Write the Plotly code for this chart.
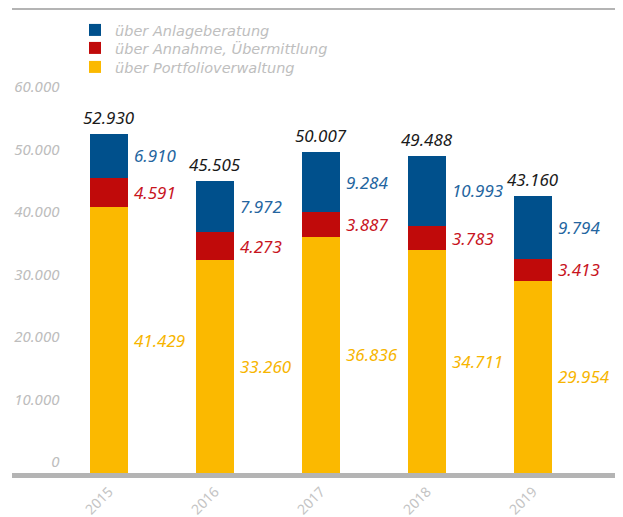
import plotly.graph_objects as go

years = ["2015", "2016", "2017", "2018", "2019"]
portfolio = [41429, 33260, 36836, 34711, 29954]
annahme = [4591, 4273, 3887, 3783, 3413]
beratung = [6910, 7972, 9284, 10993, 9794]
totals_lbl = ["52.930", "45.505", "50.007", "49.488", "43.160"]
names = ["über Portfolioverwaltung", "über Annahme, Übermittlung", "über Anlageberatung"]
ytick_vals = [0, 10000, 20000, 30000, 40000, 50000, 60000]
ytick_text = ["0", "10.000", "20.000", "30.000", "40.000", "50.000", "60.000"]

def fmt(v):
    return f"{v:,}".replace(",", ".")

bar_cols = ["#FBB900", "#C00A0A", "#00508C"]
lbl_cols = ["#F7B500", "#C8141E", "#2465A0"]
FONT = "Noto Sans"
LEG_FONT = "DejaVu Sans"

OFF = 8  # page body margin
W, H = 623 - OFF, 517 - OFF
PL, PR = 12 - OFF, 620 - OFF
PT, PB = 10 - OFF, 473 - OFF
PH = PB - PT

fig = go.Figure()
series = [portfolio, annahme, beratung]
legend_ids = ["legend3", "legend2", "legend"]
for s, n, c, lg in zip(series, names, bar_cols, legend_ids):
    fig.add_trace(go.Bar(x=years, y=s, name=n, marker_color=c, width=0.358,
                         marker_line_width=0, legend=lg))
fig.add_trace(go.Scatter(x=years, y=[0]*5, yaxis="y2", mode="markers",
                         marker=dict(opacity=0), showlegend=False, hoverinfo="skip"))

ann = []
for i, yr in enumerate(years):
    base = 0
    for s, col in zip(series, lbl_cols):
        v = s[i]
        ann.append(dict(x=i, y=base + v / 2, xref="x", yref="y", text=fmt(v),
                        showarrow=False, xanchor="left", yanchor="middle", xshift=23,
                        font=dict(family=FONT, size=17, color=col, style="italic")))
        base += v
    ann.append(dict(x=i, y=base, xref="x", yref="y", text=totals_lbl[i],
                    showarrow=False, xanchor="center", yanchor="bottom", yshift=3, xshift=0,
                    font=dict(family=FONT, size=17, color="#1a1a1a", style="italic")))

def leg(py):
    return dict(x=(75 - OFF - PL) / (PR - PL), y=(PB - (py - OFF)) / PH, xanchor="left",
                yanchor="middle",
                font=dict(family=LEG_FONT, size=14.5, color="#BEBEBE", style="italic"),
                itemwidth=30, bgcolor="rgba(0,0,0,0)", borderwidth=0)

fig.update_layout(
    width=W, height=H,
    margin=dict(l=PL, r=W - PR, t=PT, b=H - PB, autoexpand=False, pad=0),
    plot_bgcolor="white", paper_bgcolor="white",
    barmode="stack", bargap=0,
    showlegend=True,
    legend=leg(30), legend2=leg(48), legend3=leg(67),
    xaxis=dict(type="category", range=[-0.915, 4.821], showline=True, linewidth=5,
               linecolor="#B4B4B4", mirror=True, ticks="", tickangle=-45,
               tickfont=dict(family=FONT, size=14, color="#C4C4C4"), showgrid=False,
               automargin=False),
    yaxis=dict(range=[0, 72200], showticklabels=False, showgrid=False, zeroline=False,
               showline=False, ticks="", automargin=False),
    yaxis2=dict(range=[-1760, 72320], overlaying="y", anchor="free", side="left",
                position=0.078, tickvals=ytick_vals, ticktext=ytick_text,
                tickfont=dict(family=FONT, size=15, color="#BDBDBD", style="italic"),
                showgrid=False, zeroline=False, showline=False, ticks="", automargin=False),
    annotations=ann,
)

fig.write_html("out.html")
